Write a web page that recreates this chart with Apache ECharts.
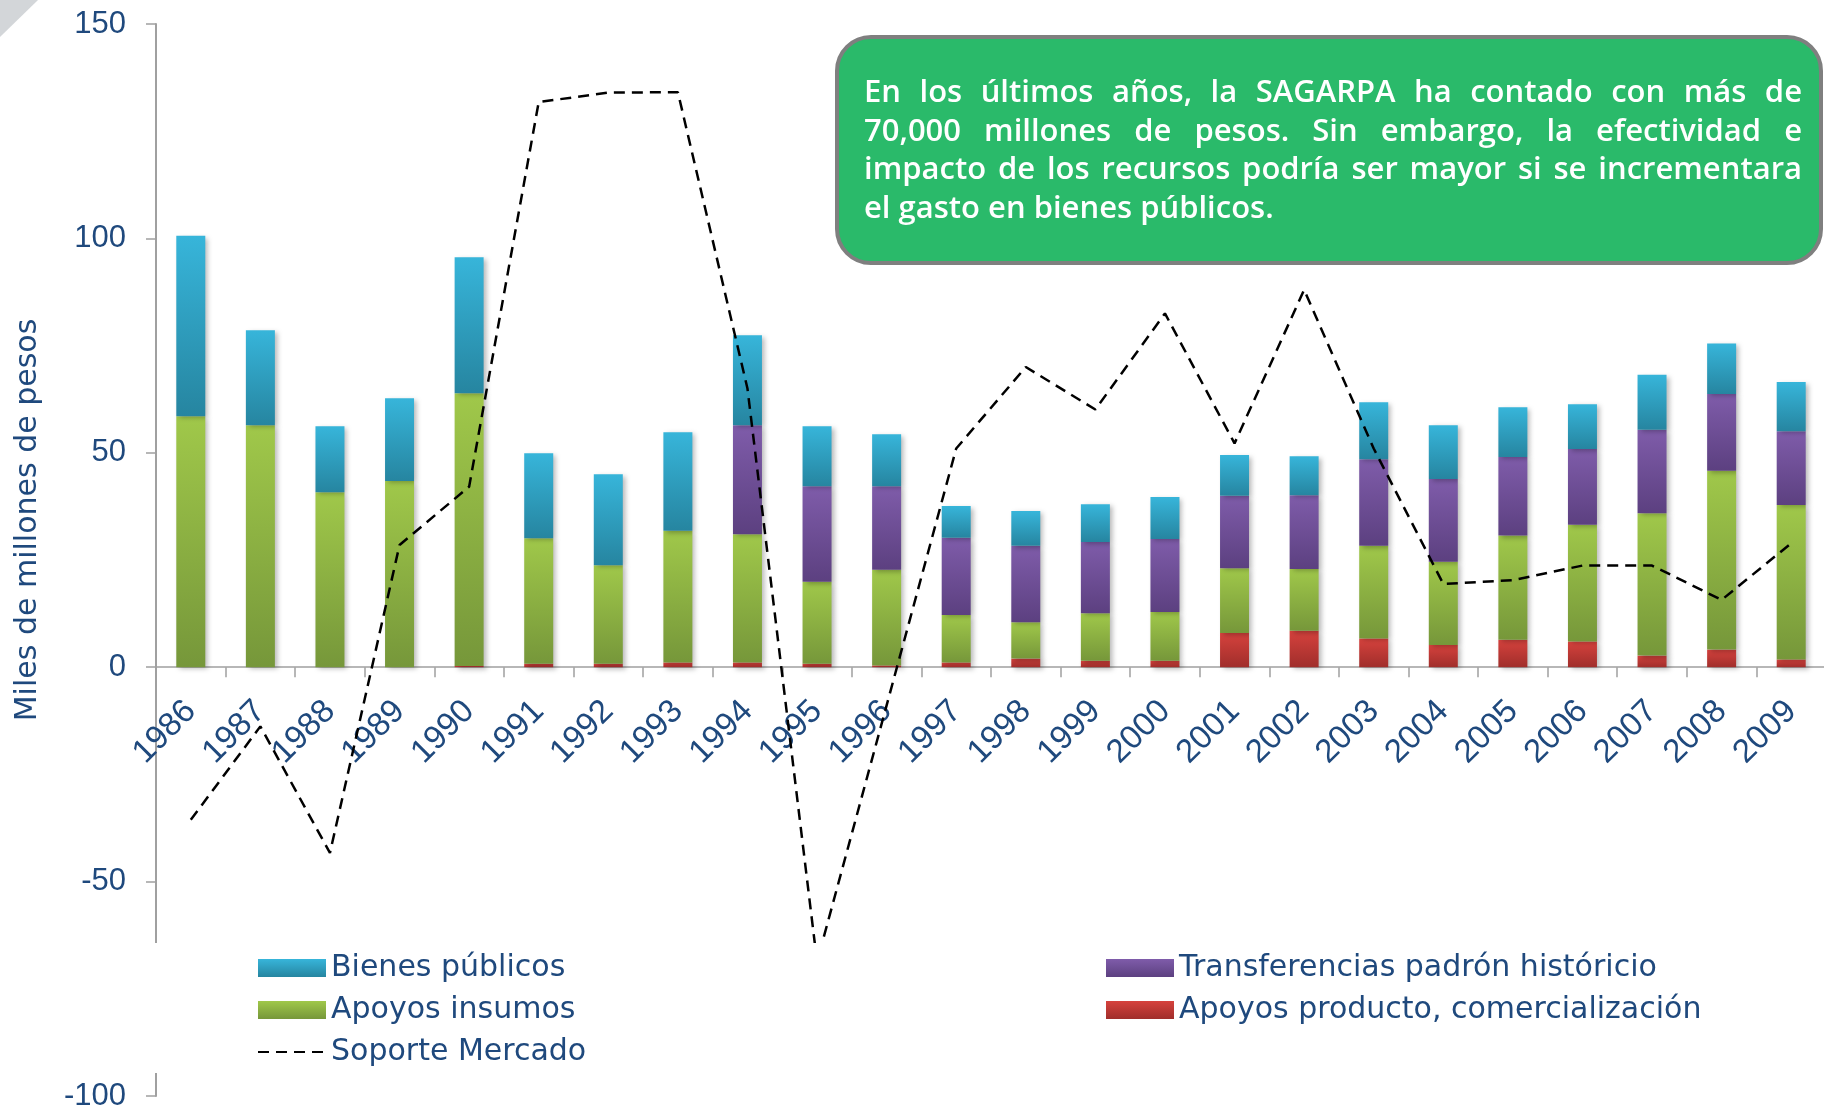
<!DOCTYPE html>
<html><head><meta charset="utf-8">
<script src="https://cdn.jsdelivr.net/npm/echarts@6/dist/echarts.min.js"></script>
<style>html,body{margin:0;padding:0;background:#fff}#c{width:1824px;height:1110px}</style>
</head><body><div id="c"></div>
<script>
// ---- data ----
const years = ['1986','1987','1988','1989','1990','1991','1992','1993','1994','1995','1996','1997','1998','1999','2000','2001','2002','2003','2004','2005','2006','2007','2008','2009'];
const apoyosProducto = [0,0,0,0,0.3,0.8,0.8,1.1,1.1,0.8,0.4,1.1,2.0,1.5,1.5,8.0,8.5,6.7,5.2,6.4,6.0,2.7,4.1,1.8];
const apoyosInsumos  = [58.5,56.4,40.8,43.4,63.6,29.3,23.0,30.7,29.9,19.1,22.3,11.1,8.5,11.1,11.4,15.1,14.4,21.6,19.4,24.3,27.2,33.2,41.7,36.0];
const transferencias = [0,0,0,0,0,0,0,0,25.4,22.3,19.5,18.0,17.8,16.6,17.0,16.9,17.2,20.2,19.3,18.3,17.7,19.5,17.9,17.2];
const bienesPublicos = [42.1,22.2,15.4,19.3,31.7,19.8,21.2,23.0,21.0,14.0,12.1,7.4,8.1,8.8,9.8,9.5,9.1,13.3,12.5,11.6,10.4,12.8,11.8,11.5];
const soporteMercado = [-35.6,-13.8,-43.3,28.5,42.1,131.8,134.0,134.1,65.0,-68.7,-8.9,51.0,70.0,60.1,82.5,52.2,88.0,51.0,19.4,20.3,23.7,23.7,15.7,28.9];
const yMin = -100, yMax = 150, yStep = 50;
const names = {
  bienes: 'Bienes públicos',
  insumos: 'Apoyos insumos',
  soporte: 'Soporte Mercado',
  transf: 'Transferencias padrón históricio',
  producto: 'Apoyos producto, comercialización'
};
const yName = 'Miles de millones de pesos';
const noteLines = [
  'En los últimos años, la SAGARPA ha contado con más de',
  '70,000 millones de pesos. Sin embargo, la efectividad e',
  'impacto de los recursos podría ser mayor si se incrementara',
  'el gasto en bienes públicos.'
];

// ---- chart ----
const TXT = '#1F497D';
const AX = '#A0A0A0';
const GRID = {left: 156, top: 24, width: 1670, height: 1072};
const zeroOffset = -(GRID.height * (0 - yMin) / (yMax - yMin));

function grad(a, b) {
  return new echarts.graphic.LinearGradient(0, 0, 0, 1, [{offset: 0, color: a}, {offset: 1, color: b}]);
}
const shadow = {shadowBlur: 5, shadowColor: 'rgba(0,0,0,0.28)', shadowOffsetX: 3, shadowOffsetY: 2};
function barSeries(name, data, a, b) {
  return {
    name, type: 'bar', stack: 'total', data, barWidth: 29,
    itemStyle: Object.assign({color: grad(a, b)}, shadow),
    emphasis: {disabled: true}
  };
}

// justified note text (horizontally condensed to fit like the original)
const measure = document.createElement('canvas').getContext('2d');
const noteFamily = 'Open Sans';
const noteWeight = '600';
const noteSize = 31;
const noteLeft = 864, noteRight = 1802;
const noteW = noteRight - noteLeft;
measure.font = noteWeight + ' ' + noteSize + 'px "' + noteFamily + '"';
const natural = measure.measureText(noteLines[2]).width;
const sx = Math.min(1, (noteW - 2) / natural);
const noteGraphics = [];
const baselines = [104, 142.7, 181, 220];
noteLines.forEach((line, i) => {
  const words = line.split(' ');
  const widths = words.map(w => measure.measureText(w).width * sx);
  const total = widths.reduce((s, v) => s + v, 0);
  const gap = (i < noteLines.length - 1 && words.length > 1)
    ? (noteW - total) / (words.length - 1)
    : measure.measureText(' ').width * sx;
  let x = noteLeft;
  words.forEach((w, k) => {
    noteGraphics.push({
      type: 'text', x: x, y: baselines[i] - 11, z: 7, silent: true, scaleX: sx,
      style: {text: w, fill: '#FFFFFF', fontFamily: noteFamily, fontWeight: noteWeight, fontSize: noteSize, align: 'left', verticalAlign: 'middle'}
    });
    x += widths[k] + gap;
  });
});

const chart = echarts.init(document.getElementById('c'), null, {renderer: 'canvas'});
const legendText = {color: TXT, fontSize: 30, fontFamily: 'DejaVu Sans', lineHeight: 30};
chart.setOption({
  animation: false,
  backgroundColor: '#FFFFFF',
  grid: Object.assign({outerBoundsMode: 'none', containLabel: false}, GRID),
  xAxis: {
    type: 'category', data: years, boundaryGap: true, position: 'bottom', offset: zeroOffset,
    axisLine: {onZero: false, lineStyle: {color: AX, width: 1.5}},
    axisTick: {show: true, length: 10, interval: 0, lineStyle: {color: AX, width: 1.5}},
    axisLabel: {rotate: 45, margin: 39, interval: 0, color: TXT, fontSize: 33, fontFamily: 'Liberation Sans'},
    splitLine: {show: false}
  },
  yAxis: {
    type: 'value', min: yMin, max: yMax, interval: yStep,
    axisLine: {show: true, lineStyle: {color: AX, width: 2}},
    axisTick: {show: true, length: 10, lineStyle: {color: AX, width: 1.5}},
    axisLabel: {margin: 30, color: TXT, fontSize: 31, fontFamily: 'Liberation Sans'},
    splitLine: {show: false}
  },
  legend: [
    {
      zlevel: 1, z: 4,
      orient: 'vertical', left: 252, top: 948, itemWidth: 68, itemHeight: 18, itemGap: 12,
      selectedMode: false, textStyle: legendText,
      data: [
        {name: names.bienes, icon: 'rect'},
        {name: names.insumos, icon: 'rect'},
        {name: names.soporte, itemStyle: {color: 'rgba(0,0,0,0)', borderWidth: 0, borderColor: 'rgba(0,0,0,0)'}}
      ]
    },
    {
      zlevel: 1, z: 4,
      orient: 'vertical', left: 1101, top: 948, itemWidth: 68, itemHeight: 18, itemGap: 12,
      selectedMode: false, textStyle: legendText,
      data: [{name: names.transf, icon: 'rect'}, {name: names.producto, icon: 'rect'}]
    }
  ],
  series: [
    barSeries(names.producto, apoyosProducto, '#D6423D', '#A02E2B'),
    barSeries(names.insumos, apoyosInsumos, '#A0C84A', '#76973A'),
    barSeries(names.transf, transferencias, '#7F5CAA', '#5C4080'),
    barSeries(names.bienes, bienesPublicos, '#37B5DA', '#2685A0'),
    {
      name: names.soporte, type: 'line', data: soporteMercado, symbol: 'none',
      itemStyle: {color: '#000000'},
      lineStyle: {color: '#000000', width: 2.5, type: [11, 7]},
      emphasis: {disabled: true}
    }
  ],
  graphic: [
    {type: 'polygon', z: 1, silent: true, shape: {points: [[0, 0], [38, 0], [0, 37]]}, style: {fill: '#D3D6D9'}},
    {type: 'rect', zlevel: 1, z: 0, silent: true, shape: {x: 120, y: 943, width: 1704, height: 130}, style: {fill: '#FFFFFF'}},
    {type: 'text', z: 5, silent: true, x: 28, y: 520, rotation: Math.PI / 2,
      style: {text: yName, fill: TXT, fontSize: 30, fontFamily: 'DejaVu Sans', align: 'center', verticalAlign: 'middle'}},
    {type: 'rect', z: 6, silent: true, shape: {x: 837, y: 37, width: 984, height: 226, r: 34},
      style: {fill: '#2ABA6A', stroke: '#7F7F7F', lineWidth: 4}}
  ].concat(noteGraphics)
});
</script>
</body></html>
